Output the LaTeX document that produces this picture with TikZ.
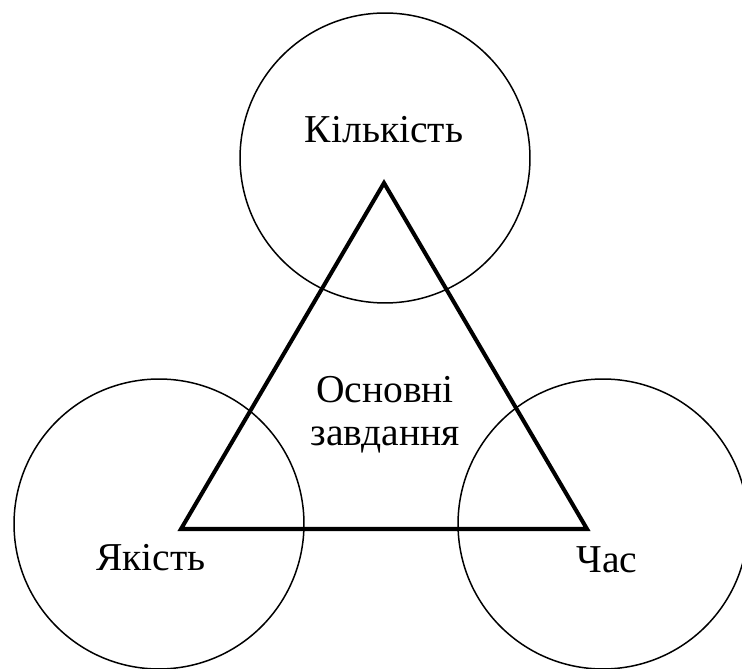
\documentclass[tikz,border=0pt]{standalone}
\usepackage{fontspec}
\setmainfont{Liberation Serif}
\usetikzlibrary{positioning}

\begin{document}
\begin{tikzpicture}[x=0.02cm, y=0.02cm,
		ring/.style={draw, circle, line width=0.85pt, minimum size=5.8cm, inner sep=0pt},
		label/.style={font=\fontsize{22.5}{24.5}\selectfont, inner sep=0pt},
		edge/.style={line width=2.3pt, line join=miter}]
			\useasboundingbox (0,0) rectangle (742,668);
			% three circles
			\node[ring] (top)   at (385,510) {};
			\node[ring] (left)  at (159,144) {};
			\node[ring] (right) at (603,144) {};
			% triangle corners
			\coordinate (apex) at (384,485);
			\coordinate (bl) at (181,139);
			\coordinate (br) at (587,139);
			\draw[edge] (apex) -- (br) -- (bl) -- cycle;
			% labels
			\node[label, anchor=base] (qty) at (384,525) {Кількість};
			\node[label, anchor=base] (qual) at (151,97) {Якість};
			\node[label, anchor=base] (time) at (607,95) {Час};
			\node[label, align=center] (main) at (385,253) {Основні\\завдання};
		\end{tikzpicture}
\end{document}
